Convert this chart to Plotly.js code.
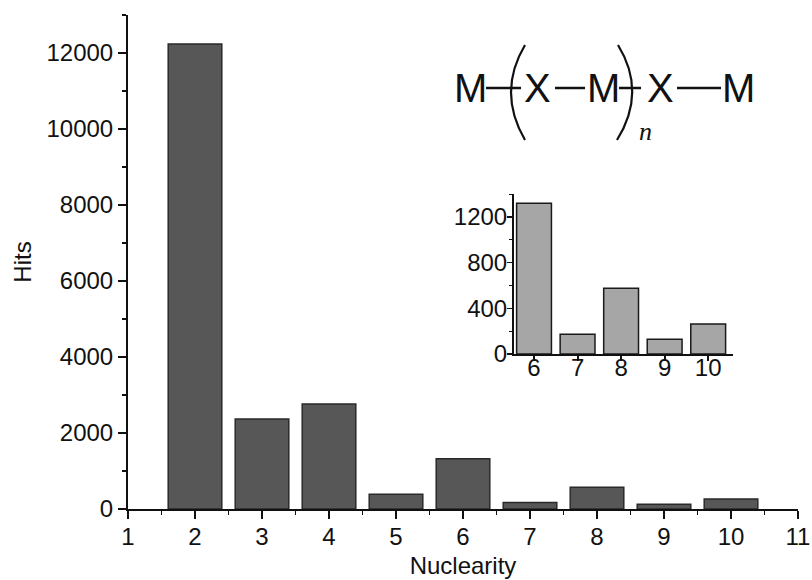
<!DOCTYPE html>
<html>
<head>
<meta charset="utf-8">
<script src="https://cdn.plot.ly/plotly-3.0.1.min.js"></script>
<style>html,body{margin:0;padding:0;background:#fff;}#chart{width:812px;height:580px;}</style>
</head>
<body>
<div id="chart"></div>
<script>
// ---- data ----
const nuclearity = [2, 3, 4, 5, 6, 7, 8, 9, 10];
const hits = [12240, 2370, 2760, 390, 1320, 172, 575, 128, 262];
const insetNuclearity = [6, 7, 8, 9, 10];
const insetHits = [1320, 172, 575, 128, 262];
const xTicks = [1, 2, 3, 4, 5, 6, 7, 8, 9, 10, 11];
const yTicks = [0, 2000, 4000, 6000, 8000, 10000, 12000];
const insetYTicks = [0, 400, 800, 1200];

// ---- layout helpers (decoration only) ----
const L = 128, R = 798, T = 15, B = 509;
function px(x) { return (x - L) / (R - L); }
function py(y) { return (B - y) / (B - T); }

const FONT = 'Liberation Sans, Arial, sans-serif';
const INK = '#111111';

const traces = [
  {
    type: 'bar', x: nuclearity, y: hits, width: 0.8,
    marker: {color: '#575757', line: {color: '#2a2a2a', width: 1.5}},
    xaxis: 'x', yaxis: 'y', hoverinfo: 'x+y'
  },
  {
    type: 'bar', x: insetNuclearity, y: insetHits, width: 0.8,
    marker: {color: '#a6a6a6', line: {color: '#1a1a1a', width: 1.5}},
    xaxis: 'x2', yaxis: 'y2', hoverinfo: 'x+y'
  }
];

// formula: M-(X-M)_n-X-M
const fy = 88;
const letters = [
  ['M', 470], ['X', 537], ['M', 603], ['X', 660], ['M', 738]
];
const annotations = letters.map(([t, x]) => ({
  text: t, xref: 'paper', yref: 'paper', x: px(x), y: py(fy),
  xanchor: 'center', yanchor: 'middle', showarrow: false,
  font: {family: FONT, size: 40, color: INK}
}));
annotations.push({
  text: 'n', xref: 'paper', yref: 'paper', x: px(645), y: py(131),
  xanchor: 'center', yanchor: 'middle', showarrow: false,
  font: {family: 'Liberation Serif, DejaVu Serif, serif', size: 26, color: INK, style: 'italic'}
});

const lineSty = {color: INK, width: 2.5};
function seg(x0, x1) {
  return {type: 'line', xref: 'paper', yref: 'paper', x0: px(x0), x1: px(x1), y0: py(fy), y1: py(fy), line: lineSty};
}
function paren(xTop, xCtrl, xBot) {
  return {type: 'path', xref: 'paper', yref: 'paper',
    path: `M ${px(xTop)} ${py(45)} Q ${px(xCtrl)} ${py(92)} ${px(xBot)} ${py(140)}`,
    line: {color: INK, width: 2.2}};
}
const shapes = [
  seg(486, 521), seg(555, 585), seg(619, 641), seg(677, 721),
  paren(525, 497, 525), paren(618, 647, 617)
];

const layout = {
  width: 812, height: 580,
  margin: {l: L, r: 812 - R, t: T, b: 580 - B},
  paper_bgcolor: '#ffffff', plot_bgcolor: 'rgba(0,0,0,0)',
  showlegend: false, bargap: 0,
  font: {family: FONT, color: INK, size: 24},
  xaxis: {
    range: [1, 11], tickvals: xTicks, ticktext: xTicks.map(String),
    showline: true, linecolor: INK, linewidth: 2, showgrid: false, zeroline: false,
    ticks: 'outside', ticklen: 8, tickwidth: 2, tickcolor: INK, ticklabelstandoff: -3,
    minor: {ticks: 'outside', ticklen: 4, tickwidth: 1.5, tickcolor: INK, dtick: 0.5, tick0: 1, showgrid: false},
    tickfont: {size: 24, family: FONT, color: INK},
    title: {text: 'Nuclearity', font: {size: 24, family: FONT, color: INK}, standoff: 8}
  },
  yaxis: {
    range: [0, 13000], tickvals: yTicks, ticktext: yTicks.map(String),
    showline: true, linecolor: INK, linewidth: 2, showgrid: false, zeroline: false,
    ticks: 'outside', ticklen: 8, tickwidth: 2, tickcolor: INK,
    minor: {ticks: 'outside', ticklen: 4, tickwidth: 1.5, tickcolor: INK, dtick: 1000, tick0: 0, showgrid: false},
    tickfont: {size: 24, family: FONT, color: INK},
    title: {text: 'Hits', font: {size: 24, family: FONT, color: INK}, standoff: 8}
  },
  xaxis2: {
    domain: [px(514), px(733)], anchor: 'y2',
    range: [5.54, 10.57], tickvals: insetNuclearity, ticktext: insetNuclearity.map(String),
    showline: true, linecolor: INK, linewidth: 2, showgrid: false, zeroline: false,
    ticks: 'outside', ticklen: 5, tickwidth: 2, tickcolor: INK, ticklabelstandoff: -14,
    tickfont: {size: 24, family: FONT, color: INK}
  },
  yaxis2: {
    domain: [py(354), py(194)], anchor: 'x2',
    range: [0, 1400], tickvals: insetYTicks, ticktext: insetYTicks.map(String),
    showline: true, linecolor: INK, linewidth: 2, showgrid: false, zeroline: false,
    ticks: 'outside', ticklen: 5, tickwidth: 1.5, tickcolor: INK, ticklabelstandoff: -5,
    minor: {ticks: 'outside', ticklen: 3, tickwidth: 1, tickcolor: INK, dtick: 200, tick0: 0, showgrid: false},
    tickfont: {size: 24, family: FONT, color: INK}
  },
  annotations: annotations,
  shapes: shapes
};

Plotly.newPlot('chart', traces, layout, {displayModeBar: false, staticPlot: true});
</script>
</body>
</html>
